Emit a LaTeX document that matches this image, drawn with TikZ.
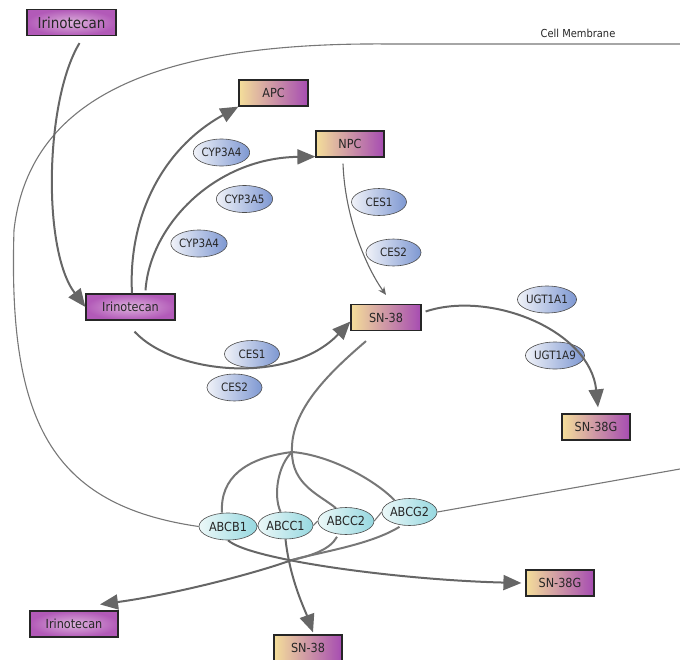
\documentclass[tikz,border=0pt]{standalone}
\usepackage{fontspec}
\setmainfont{DejaVu Sans}[FakeStretch=0.9]
\usetikzlibrary{shapes.geometric,arrows.meta,backgrounds}
\definecolor{pathgray}{HTML}{666666}
\definecolor{memgray}{HTML}{777777}
\definecolor{irilight}{HTML}{DDB2DC}
\definecolor{iridark}{HTML}{B25AB8}
\definecolor{prodleft}{HTML}{F4DE9A}
\definecolor{prodright}{HTML}{A64CB2}
\definecolor{enzleft}{HTML}{F0F2F8}
\definecolor{enzright}{HTML}{7E98D2}
\definecolor{transleft}{HTML}{ECF8F8}
\definecolor{transright}{HTML}{96D8E0}
\tikzset{
  chem/.style={draw=black!85,line width=1.2pt,minimum height=26pt,inner sep=0pt,text=black!85,font=\fontsize{12.5}{12.5}\selectfont},
  drug/.style={chem,inner color=irilight,outer color=iridark},
  prod/.style={chem,left color=prodleft,right color=prodright},
  enz/.style={ellipse,draw=black!70,line width=.6pt,minimum width=55pt,minimum height=27pt,inner sep=0pt,left color=enzleft,right color=enzright,text=black!85,font=\fontsize{11.5}{11.5}\selectfont},
  trans/.style={enz,left color=transleft,right color=transright,font=\fontsize{12.5}{12.5}\selectfont},
  flow/.style={-{Triangle[length=18pt,width=15pt]},line width=2pt,draw=pathgray},
  thinflow/.style={-{Stealth[length=8pt,width=7pt]},line width=1.1pt,draw=pathgray},
  export/.style={line width=2pt,draw=memgray},
  membrane/.style={line width=1.1pt,draw=memgray}
}
\begin{document}
\begin{tikzpicture}[x=1pt,y=-1pt]
\useasboundingbox (0,0) rectangle (680,659);

\node[drug,minimum width=89pt,font=\fontsize{15}{15}\selectfont] (iritop) at (71.5,22.5) {Irinotecan};
\node[prod,minimum width=69pt] (apc) at (273.5,93) {APC};
\node[prod,minimum width=68pt] (npc) at (350,144) {NPC};
\node[drug,minimum width=89pt] (irimid) at (130.5,307) {Irinotecan};
\node[prod,minimum width=70pt] (sn38) at (386,317.5) {SN-38};
\node[prod,minimum width=68pt] (sn38g) at (596,427) {SN-38G};
\node[prod,minimum width=68pt] (sn38gout) at (560,583) {SN-38G};
\node[drug,minimum width=88pt] (iriout) at (74,624) {Irinotecan};
\node[prod,minimum width=68pt] (sn38out) at (308,648) {SN-38};

\node[enz] (cypa) at (221.5,152.5) {CYP3A4};
\node[enz] (cypb) at (244.5,199) {CYP3A5};
\node[enz] (cypc) at (199,243.5) {CYP3A4};
\node[enz] (cesa) at (379,202) {CES1};
\node[enz] (cesb) at (393.5,252.5) {CES2};
\node[enz] (cesc) at (252,354) {CES1};
\node[enz] (cesd) at (234.5,387.5) {CES2};
\node[enz] (ugta) at (547,299.5) {UGT1A1};
\node[enz] (ugtb) at (555,355.5) {UGT1A9};

\node[trans,minimum width=58pt] (abcb) at (228,526.5) {ABCB1};
\node[trans] (abcc) at (285.5,525.5) {ABCC1};
\node[trans,minimum width=56pt] (abcd) at (346,521) {ABCC2};
\node[trans] (abcg) at (409.5,512) {ABCG2};

\node[text=black!85,font=\fontsize{11}{11}\selectfont] (memlabel) at (578,33) {Cell Membrane};

\coordinate (memright) at (680,44);
\coordinate (memturn) at (390,44);
\coordinate (memside) at (14,230);
\coordinate (memend) at (680,469);
\coordinate (inhub) at (292,452);
\coordinate (outhub) at (292,560);

\begin{scope}[on background layer]
\draw[membrane] (memright) -- (memturn) .. controls (170,42) and (30,90) .. (memside)
  .. controls (8,420) and (50,505) .. (abcb.west);
\draw[membrane] (abcb.east) -- (abcc.west);
\draw[membrane] (abcc.east) -- (abcd.west);
\draw[membrane] (abcd.east) -- (abcg.west);
\draw[membrane] (abcg.east) -- (memend);

\draw[export] ([xshift=-20pt,yshift=-10pt]sn38.south) .. controls (330,372) and (290,410) .. (inhub);
\draw[export] (inhub) .. controls (245,458) and (220,478) .. ([xshift=-6pt]abcb.north);
\draw[export] (inhub) .. controls (278,465) and (273,495) .. ([xshift=-5pt]abcc.north);
\draw[export] (inhub) .. controls (292,485) and (320,495) .. ([xshift=-10pt,yshift=-1pt]abcd.north);
\draw[export] (inhub) .. controls (330,455) and (375,480) .. ([xshift=-15pt,yshift=-2pt]abcg.north);

\draw[export] ([xshift=-9pt,yshift=-2pt]abcd.south) .. controls (330,550) and (310,556) .. (outhub);
\draw[export] ([xshift=-10pt,yshift=-1pt]abcg.south) .. controls (370,545) and (320,552) .. (outhub);
\draw[flow] (outhub) .. controls (250,575) and (170,595) .. ([xshift=26pt,yshift=6pt]iriout.north);
\draw[flow] (abcb.south) .. controls (250,560) and (400,580) .. ([xshift=-4pt]sn38gout.west);
\draw[flow] (abcc.south) .. controls (290,580) and (305,610) .. ([xshift=5pt,yshift=2pt]sn38out.north);
\end{scope}

\draw[flow] ([xshift=8pt,yshift=-7pt]iritop.south) .. controls (45,100) and (42,250) .. (irimid.west);
\draw[flow] ([xshift=1.5pt]irimid.north) .. controls (128,220) and (160,150) .. (apc.south west);
\draw[flow] ([xshift=15pt,yshift=3pt]irimid.north) .. controls (150,225) and (215,158) .. ([yshift=1pt]npc.south west);
\draw[thinflow] ([xshift=-7pt,yshift=-6pt]npc.south) .. controls (345,220) and (368,270) .. ([yshift=9pt]sn38.north);
\draw[flow] ([xshift=4pt,yshift=-11pt]irimid.south) .. controls (175,375) and (290,385) .. ([yshift=-4pt]sn38.west);
\draw[flow] ([xshift=4pt,yshift=6pt]sn38.east) .. controls (490,290) and (590,330) .. ([xshift=2pt,yshift=6pt]sn38g.north);
\end{tikzpicture}
\end{document}
